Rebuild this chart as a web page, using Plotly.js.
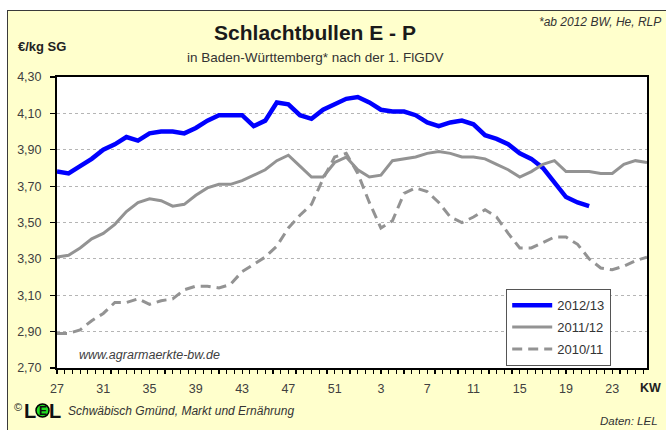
<!DOCTYPE html>
<html>
<head>
<meta charset="utf-8">
<script src="https://cdn.plot.ly/plotly-3.0.1.min.js"></script>
<style>
  html, body { margin: 0; padding: 0; background: #ffffff; }
  #wrap { position: relative; width: 666px; height: 430px; overflow: hidden; }
  #frame { position: absolute; left: 7px; top: 10px; width: 680px; height: 440px;
           background: #FFFFCC; border: 1.5px solid #3a3a3a; box-sizing: border-box; }
  #chart { position: absolute; left: 0; top: 0; width: 666px; height: 430px; }
</style>
</head>
<body>
<div id="wrap">
  <div id="frame"></div>
  <div id="chart"></div>
</div>
<script>
// Calendar weeks (KW) on the x axis: 27..52, then 1..26
const weeks = [27,28,29,30,31,32,33,34,35,36,37,38,39,40,41,42,43,44,45,46,47,48,49,50,51,52,
               1,2,3,4,5,6,7,8,9,10,11,12,13,14,15,16,17,18,19,20,21,22,23,24,25,26];
const tickWeeks = [27,31,35,39,43,47,51,3,7,11,15,19,23];

const seriesNames = ["2012/13", "2011/12", "2010/11"];

// €/kg SG
const price2012_13 = [3.78,3.77,3.81,3.85,3.90,3.93,3.97,3.95,3.99,4.00,4.00,3.99,4.02,4.06,4.09,4.09,4.09,
                      4.03,4.06,4.16,4.15,4.09,4.07,4.12,4.15,4.18,4.19,
                      4.16,4.12,4.11,4.11,4.09,4.05,4.03,4.05,4.06,4.04,3.98,3.96,3.93,3.88,3.85,3.80,3.72,3.64,3.61,3.59];
const price2011_12 = [3.31,3.32,3.36,3.41,3.44,3.49,3.56,3.61,3.63,3.62,3.59,3.60,3.65,3.69,3.71,3.71,3.73,
                      3.76,3.79,3.84,3.87,3.81,3.75,3.75,3.83,3.86,3.79,3.75,3.76,3.84,3.85,3.86,3.88,3.89,3.88,
                      3.86,3.86,3.85,3.82,3.79,3.75,3.78,3.82,3.84,3.78,3.78,3.78,3.77,3.77,3.82,3.84,3.83];
const price2010_11 = [2.89,2.89,2.91,2.96,3.00,3.06,3.06,3.08,3.05,3.07,3.08,3.13,3.15,3.15,3.14,3.16,3.23,
                      3.27,3.31,3.37,3.47,3.54,3.60,3.74,3.86,3.88,3.77,3.61,3.47,3.51,3.66,3.69,3.67,3.61,3.53,
                      3.50,3.53,3.57,3.53,3.44,3.36,3.36,3.39,3.42,3.42,3.38,3.30,3.25,3.24,3.26,3.29,3.31];

const yTicks = [2.70,2.90,3.10,3.30,3.50,3.70,3.90,4.10,4.30];

// ---------- layout helpers (pixel -> paper) ----------
const W = 666, H = 430;
const PL = 57, PR = 647, PT = 77, PB = 368;
const px = x => (x - PL) / (PR - PL);
const py = y => (PB - y) / (PB - PT);

const idx = arr => arr.map((_, i) => i);
const FONT = "Liberation Sans, Arial, sans-serif";

const traces = [
  { x: idx(price2012_13), y: price2012_13, name: seriesNames[0], legendgroup: "a", type: "scatter", mode: "lines",
    line: { color: "#0000FF", width: 4.5 } },
  { x: idx(price2011_12), y: price2011_12, name: seriesNames[1], legendgroup: "b", type: "scatter", mode: "lines",
    line: { color: "#939393", width: 3 } },
  { x: idx(price2010_11), y: price2010_11, name: seriesNames[2], legendgroup: "c", type: "scatter", mode: "lines",
    line: { color: "#939393", width: 3, dash: "10px,6px" } }
];

const tickIdx = tickWeeks.map(w => weeks.indexOf(w));

function ann(text, x, y, opts) {
  return Object.assign({ text, xref: "paper", yref: "paper", x: px(x), y: py(y),
    showarrow: false, xanchor: "center", yanchor: "middle",
    font: { family: FONT, size: 11, color: "#333333" } }, opts || {});
}

const layout = {
  width: W, height: H,
  margin: { l: PL, r: W - PR, t: PT, b: H - PB, pad: 0 },
  paper_bgcolor: "rgba(0,0,0,0)",
  plot_bgcolor: "#FFFFFF",
  separators: ",.",
  font: { family: FONT, size: 12, color: "#404040" },
  showlegend: true,
  title: { text: "<b>Schlachtbullen E - P</b>", font: { family: FONT, size: 21, color: "#1a1a1a" },
           xref: "paper", x: px(315), xanchor: "center", yref: "container", y: 1 - 33 / H, yanchor: "middle" },
  xaxis: {
    type: "linear", range: [0, weeks.length - 1], fixedrange: true,
    tickmode: "array", tickvals: tickIdx, ticktext: tickWeeks.map(String),
    ticks: "outside", ticklen: 4, tickwidth: 1.2, tickcolor: "#000",
    minor: { dtick: 2 / 3, tick0: 0, ticks: "outside", ticklen: 4, tickwidth: 1.2, tickcolor: "#000", showgrid: false },
    showgrid: false, zeroline: false,
    showline: true, linecolor: "#000", linewidth: 2, mirror: true,
    tickfont: { family: FONT, size: 12.5, color: "#404040" }, ticklabelstandoff: 4
  },
  yaxis: {
    range: [2.70, 4.30], fixedrange: true,
    tickmode: "array", tickvals: yTicks, tickformat: ".2f",
    ticks: "outside", ticklen: 5, tickwidth: 1.2, tickcolor: "#000",
    showgrid: true, gridcolor: "#b5b5b5", gridwidth: 1, griddash: "dot",
    zeroline: false,
    showline: true, linecolor: "#000", linewidth: 2, mirror: true,
    tickfont: { family: FONT, size: 12.5, color: "#404040" }, ticklabelstandoff: 6
  },
  legend: {
    x: px(506), y: py(289), xanchor: "left", yanchor: "top",
    bgcolor: "#FFFFFF", bordercolor: "#555555", borderwidth: 1.2,
    font: { family: FONT, size: 13, color: "#333333" },
    itemwidth: 40, tracegroupgap: 2, entrywidth: 88, entrywidthmode: "pixels"
  },
  shapes: [
    { type: "circle", xref: "paper", yref: "paper",
      x0: px(36), x1: px(49), y0: py(417), y1: py(404),
      fillcolor: "#22DD22", line: { color: "#000", width: 1.5 } }
  ],
  annotations: [
    ann("<b>€/kg SG</b>", 42, 47, { font: { family: FONT, size: 13, color: "#222" } }),
    ann("<i>*ab 2012 BW, He, RLP</i>", 663, 22, { xanchor: "right", font: { family: FONT, size: 12, color: "#333" } }),
    ann("in Baden-Württemberg* nach der 1. FlGDV", 315, 57, { font: { family: FONT, size: 13.5, color: "#333" } }),
    ann("<i>www.agrarmaerkte-bw.de</i>", 149, 355, { font: { family: FONT, size: 12.5, color: "#404040" } }),
    ann("<b>KW</b>", 651, 388, { font: { family: FONT, size: 12.5, color: "#222" } }),
    ann("©", 18, 407, { font: { family: FONT, size: 11, color: "#222" } }),
    ann("<b>L</b>", 30, 411, { font: { family: FONT, size: 20, color: "#111" } }),
    ann("<b>E</b>", 42.5, 411, { font: { family: FONT, size: 12, color: "#111" } }),
    ann("<b>L</b>", 55, 411, { font: { family: FONT, size: 20, color: "#111" } }),
    ann("<i>Schwäbisch Gmünd, Markt und Ernährung</i>", 66, 411, { xanchor: "left", font: { family: FONT, size: 12, color: "#333" } }),
    ann("<i>Daten: LEL</i>", 660, 421, { xanchor: "right", font: { family: FONT, size: 11.5, color: "#333" } })
  ]
};

Plotly.newPlot("chart", traces, layout, { staticPlot: true, displayModeBar: false });
</script>
</body>
</html>
